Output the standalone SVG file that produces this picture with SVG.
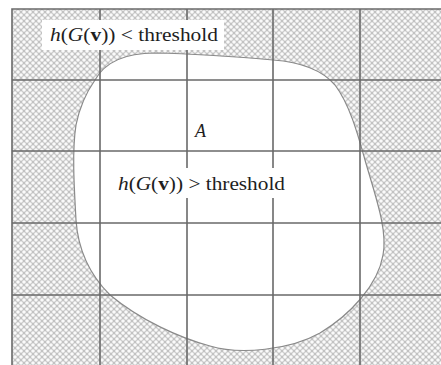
<svg xmlns="http://www.w3.org/2000/svg" width="441" height="365" viewBox="0 0 441 365">
<style>
.grid{stroke:#6a6a6a;stroke-width:1.6;fill:none}
text{font-family:"Liberation Serif","DejaVu Serif","Times New Roman",serif;font-size:19px;fill:#1e1e1e}
.it{font-style:italic}
.bd{font-weight:bold}
.box{fill:#fff}
</style>
<defs>
<pattern id="hatch" width="6" height="6" patternUnits="userSpaceOnUse">
<rect width="6" height="6" fill="#c2c2c2"/>
<circle cx="0" cy="0" r="1.8" fill="#fafafa"/>
<circle cx="6" cy="0" r="1.8" fill="#fafafa"/>
<circle cx="0" cy="6" r="1.8" fill="#fafafa"/>
<circle cx="6" cy="6" r="1.8" fill="#fafafa"/>
<circle cx="3" cy="3" r="1.8" fill="#fafafa"/>
</pattern>
</defs>
<rect width="441" height="365" fill="#fff"/>
<g id="hatched-region">
<rect x="12" y="9" width="429" height="356" fill="url(#hatch)"/>
</g>
<g id="region-A">
<path d="M 95,80 C 105,62 125,53 155,53 C 200,54 250,58 273,60 C 300,62 322,70 335,85 C 350,105 358,135 365,160 C 375,195 388,230 383,255 C 378,285 350,315 320,333 C 290,350 240,355 210,346 C 180,338 140,320 110,295 C 90,275 78,250 76,220 C 74,185 72,150 76,125 C 80,105 88,90 95,80 Z" fill="#fff" stroke="#8a8a8a" stroke-width="1.2"/>
</g>
<g id="grid">
<path class="grid" d="M12,365 V9 H441"/>
<path class="grid" d="M100,9 V365 M187,9 V365 M273,9 V365 M360,9 V365"/>
<path class="grid" d="M12,80 H441 M12,151 H441 M12,223 H441 M12,295 H441"/>
</g>
<g id="label-below">
<rect class="box" x="42" y="20" width="182" height="30"/>
<text x="50" y="41" textLength="168" lengthAdjust="spacingAndGlyphs"><tspan class="it">h</tspan>(<tspan class="it">G</tspan>(<tspan class="bd">v</tspan>)) &lt; threshold</text>
</g>
<g id="label-A">
<text class="it" x="195" y="137" style="font-size:18px">A</text>
</g>
<g id="label-above">
<rect class="box" x="114" y="168" width="176" height="30"/>
<text x="118" y="190" textLength="167" lengthAdjust="spacingAndGlyphs"><tspan class="it">h</tspan>(<tspan class="it">G</tspan>(<tspan class="bd">v</tspan>)) &gt; threshold</text>
</g>
</svg>
